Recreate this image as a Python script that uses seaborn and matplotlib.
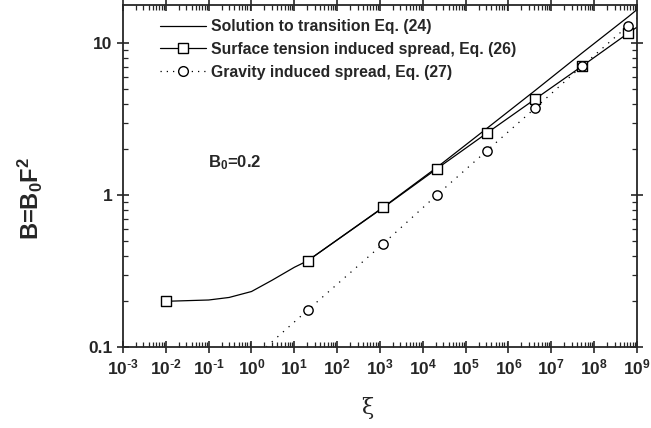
import numpy as np
import pandas as pd
import seaborn as sns
import matplotlib.pyplot as plt
from matplotlib.lines import Line2D
from matplotlib.ticker import LogLocator, NullFormatter, FixedLocator, FixedFormatter, FuncFormatter

# values
sol_xi = [1e-2, 1e-1, 3e-1, 1, 3, 10, 20.5, 1.2e3, 2.1e4, 3.1e5, 4.2e6, 5.1e7, 6.3e8, 1e9]
sol_B = [0.200, 0.204, 0.212, 0.232, 0.275, 0.335, 0.37, 0.835, 1.52, 2.75, 4.9, 8.6, 15.0, 16.7]

st_xi = [1e-2, 20.5, 1.2e3, 2.1e4, 3.1e5, 4.2e6, 5.1e7, 6.3e8]
st_B = [0.2, 0.37, 0.83, 1.49, 2.56, 4.3, 7.05, 11.7]
st_line_xi = [20.5, 1.2e3, 2.1e4, 3.1e5, 4.2e6, 5.1e7, 6.3e8, 1e9]
st_line_B = [0.37, 0.83, 1.49, 2.56, 4.3, 7.05, 11.7, 12.8]

gr_xi = [20.5, 1.2e3, 2.1e4, 3.1e5, 4.2e6, 5.1e7, 6.3e8]
gr_B = [0.175, 0.48, 1.0, 1.96, 3.75, 7.05, 13.1]
gr_line_xi = [2.2, 20.5, 1.2e3, 2.1e4, 3.1e5, 4.2e6, 5.1e7, 6.3e8, 1e9]
gr_line_B = [0.1, 0.175, 0.48, 1.0, 1.96, 3.75, 7.05, 13.1, 14.7]

legend_labels = ["Solution to transition Eq. (24)",
                 "Surface tension induced spread, Eq. (26)",
                 "Gravity induced spread, Eq. (27)"]

sns.set_style("ticks")
plt.rcParams['font.family'] = ['Liberation Sans', 'DejaVu Sans']
plt.rcParams['mathtext.default'] = 'regular'

fig = plt.figure(figsize=(6.51, 4.28), dpi=100)
ax = fig.add_axes([123 / 651, 81 / 428, 514 / 651, 342 / 428])

sns.lineplot(x=sol_xi, y=sol_B, ax=ax, color='black', lw=0.9)
sns.lineplot(x=st_line_xi, y=st_line_B, ax=ax, color='black', lw=0.9)
sns.lineplot(x=gr_line_xi, y=gr_line_B, ax=ax, color='black', lw=0.9, linestyle=(0, (1, 5)))
sns.scatterplot(x=st_xi, y=st_B, ax=ax, marker='s', s=55, facecolor='white',
                edgecolor='black', linewidth=1.0, zorder=5)
sns.scatterplot(x=gr_xi, y=gr_B, ax=ax, marker='o', s=45, facecolor='white',
                edgecolor='black', linewidth=1.0, zorder=5)

ax.set_xscale('log')
ax.set_yscale('log')
ax.set_xlim(1e-3, 1e9)
ax.set_ylim(0.1, 17.9)


def pow_label(v, pos):
    e = int(round(np.log10(v)))
    if e < 0:
        return r'$\mathregular{10^{\text{-}%d}}$' % (-e)
    return r'$\mathregular{10^{%d}}$' % e


ax.xaxis.set_major_locator(LogLocator(base=10, numticks=20))
ax.xaxis.set_major_formatter(FuncFormatter(pow_label))
ax.xaxis.set_minor_locator(LogLocator(base=10, subs=np.arange(2, 10), numticks=20))
ax.xaxis.set_minor_formatter(NullFormatter())
ax.yaxis.set_major_locator(FixedLocator([0.1, 1, 10]))
ax.yaxis.set_major_formatter(FixedFormatter(['0.1', '1', '10']))
ax.yaxis.set_minor_locator(LogLocator(base=10, subs=np.arange(2, 10), numticks=20))
ax.yaxis.set_minor_formatter(NullFormatter())

for s in ax.spines.values():
    s.set_linewidth(1.3)
ax.tick_params(which='major', direction='inout', length=9, width=1.2,
               top=True, right=True, labelsize=12.5, pad=3)
ax.tick_params(which='minor', direction='in', length=3.5, width=0.9, top=True, right=True)
for lab in ax.get_xticklabels() + ax.get_yticklabels():
    lab.set_fontweight('bold')

ax.set_xlabel('ξ', fontsize=16, family='DejaVu Serif')
ax.xaxis.set_label_coords(0.475, -0.145)
ax.set_ylabel('B=B$_0$F$^2$', fontsize=17, fontweight='bold')
ax.yaxis.set_label_coords(-0.152, 0.436)
ax.text(0.165, 0.54, 'B$_0$=0.2', transform=ax.transAxes, fontsize=12,
        fontweight='bold', va='center')

handles = [
    Line2D([], [], color='black', lw=0.9),
    Line2D([], [], color='black', lw=0.9, marker='s', markersize=7.5,
           markerfacecolor='white', markeredgecolor='black'),
    Line2D([], [], color='black', lw=0.9, linestyle=(0, (1, 4)), marker='o', markersize=7,
           markerfacecolor='white', markeredgecolor='black'),
]
leg = ax.legend(handles, legend_labels, loc='upper left', bbox_to_anchor=(0.045, 1.0),
                frameon=False, handlelength=2.9, handletextpad=0.35, labelspacing=0.5,
                prop={'weight': 'bold', 'size': 11.3})

fig.savefig('out.png', dpi=100)
